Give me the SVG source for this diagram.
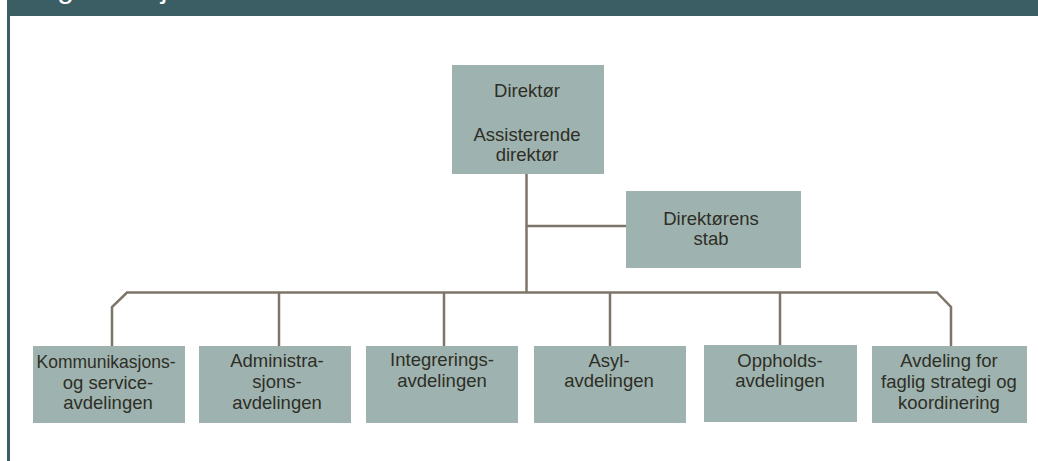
<svg xmlns="http://www.w3.org/2000/svg" width="1038" height="461" viewBox="0 0 1038 461">
<style>
.box{fill:#9eb3b0}
.t{font-family:"Liberation Sans",Arial,sans-serif;font-size:18.5px;fill:#2e2e25;text-anchor:middle}
.ln{stroke:#7d756a;stroke-width:2.5;fill:none}
</style>
<rect x="0" y="0" width="1038" height="461" fill="#ffffff"/>
<g id="header">
<rect x="7" y="0" width="1031" height="16" fill="#3a5e63"/>
<rect x="7" y="16" width="3" height="445" fill="#3a5e63"/>
<text x="24" y="-2" font-family="Liberation Sans, Arial, sans-serif" font-size="30" fill="#ffffff">Organisasjonskart</text>
</g>
<g id="connectors">
<line class="ln" x1="526.5" y1="174" x2="526.5" y2="292.5"/>
<line class="ln" x1="526.5" y1="226" x2="626" y2="226"/>
<polyline class="ln" points="112,346 112,307 127,292.5 937,292.5 951,307 951,346"/>
<line class="ln" x1="279" y1="292.5" x2="279" y2="346"/>
<line class="ln" x1="444" y1="292.5" x2="444" y2="346"/>
<line class="ln" x1="610" y1="292.5" x2="610" y2="346"/>
<line class="ln" x1="780" y1="292.5" x2="780" y2="345"/>
</g>
<g id="direktor">
<rect class="box" x="452" y="65" width="152" height="109"/>
<text class="t" x="527" y="96.5">Direktør</text>
<text class="t" x="527" y="140.5">Assisterende</text>
<text class="t" x="527" y="160.5">direktør</text>
</g>
<g id="stab">
<rect class="box" x="626" y="191" width="175" height="77"/>
<text class="t" x="711" y="225">Direktørens</text>
<text class="t" x="711" y="245">stab</text>
</g>
<g id="kommunikasjon">
<rect class="box" x="33" y="346" width="152" height="77"/>
<text class="t" x="106" y="368" textLength="139" lengthAdjust="spacingAndGlyphs">Kommunikasjons-</text>
<text class="t" x="108" y="388.5">og service-</text>
<text class="t" x="108" y="409">avdelingen</text>
</g>
<g id="administrasjon">
<rect class="box" x="199" y="346" width="152" height="77"/>
<text class="t" x="277" y="366.5">Administra-</text>
<text class="t" x="277" y="387.5">sjons-</text>
<text class="t" x="277" y="409">avdelingen</text>
</g>
<g id="integrering">
<rect class="box" x="366" y="346" width="152" height="77"/>
<text class="t" x="442" y="366">Integrerings-</text>
<text class="t" x="442" y="386.5">avdelingen</text>
</g>
<g id="asyl">
<rect class="box" x="534" y="346" width="152" height="77"/>
<text class="t" x="609" y="366.5">Asyl-</text>
<text class="t" x="609" y="386.5">avdelingen</text>
</g>
<g id="opphold">
<rect class="box" x="704" y="345" width="153" height="77"/>
<text class="t" x="780" y="366.5">Oppholds-</text>
<text class="t" x="780" y="386.5">avdelingen</text>
</g>
<g id="strategi">
<rect class="box" x="872" y="346" width="155" height="77"/>
<text class="t" x="949" y="366.5">Avdeling for</text>
<text class="t" x="949" y="388">faglig strategi og</text>
<text class="t" x="949" y="409">koordinering</text>
</g>
</svg>
